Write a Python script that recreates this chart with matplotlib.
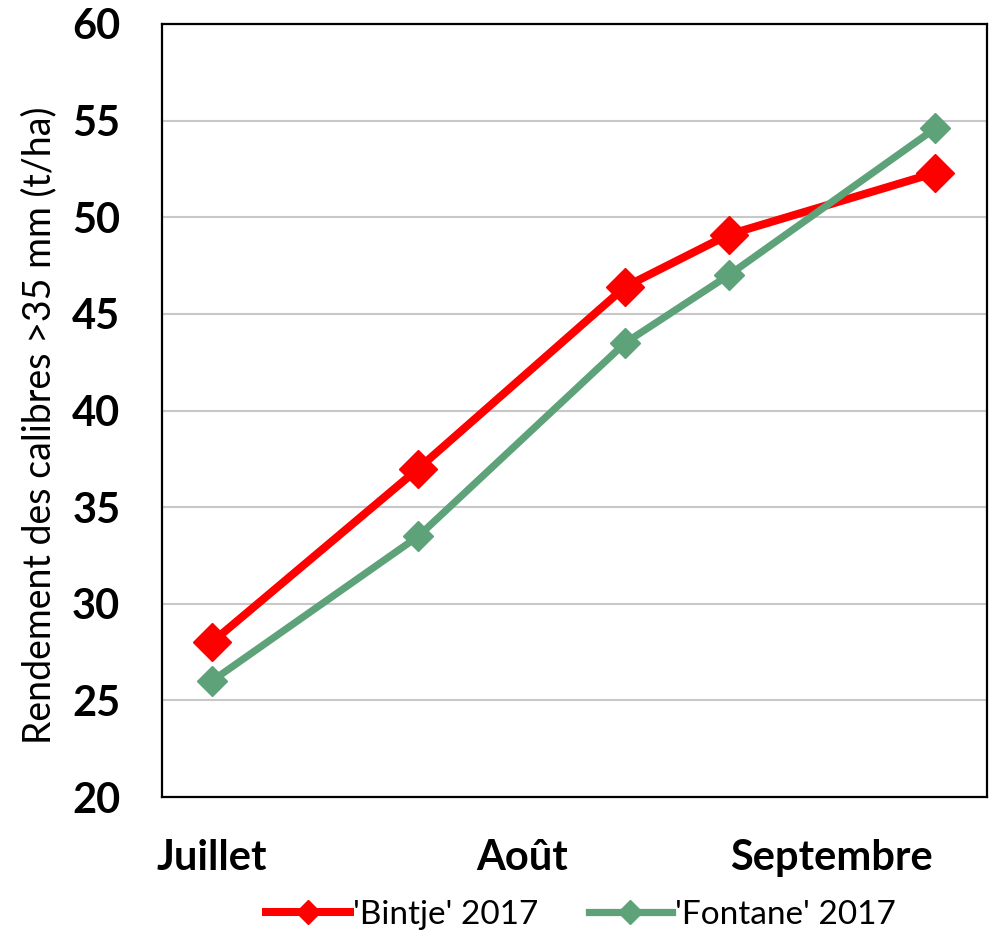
# libraries
import matplotlib.pyplot as plt

plt.rcParams['font.family'] = ['Lato', 'DejaVu Sans']

# data (x in weeks from early July)
weeks = [0, 2, 4, 5, 7]
bintje = [28.0, 37.0, 46.4, 49.1, 52.3]
fontane = [26.0, 33.5, 43.5, 47.0, 54.6]
month_pos = [0, 3, 6]
month_labels = ["Juillet", "Août", "Septembre"]
y_ticks = [20, 25, 30, 35, 40, 45, 50, 55, 60]

fig = plt.figure(figsize=(9.97, 9.40), dpi=100)
ax = fig.add_axes([0.1625, 0.152, 0.8275, 0.8225])

ax.plot(weeks, bintje, color="#FF0000", lw=5.8, marker="D", ms=19,
        label="'Bintje' 2017", zorder=3)
ax.plot(weeks, fontane, color="#5EA27A", lw=5.2, marker="D", ms=15,
        label="'Fontane' 2017", zorder=4)

ax.set_xlim(-0.48, 7.5)
ax.set_ylim(20, 60)
ax.set_yticks(y_ticks)
ax.set_xticks(month_pos)
ax.set_xticklabels(month_labels)
ax.tick_params(length=0, labelsize=30)
ax.tick_params(axis='y', pad=30)
ax.tick_params(axis='x', pad=30)
for lbl in ax.get_xticklabels() + ax.get_yticklabels():
    lbl.set_fontweight('bold')

ax.grid(axis='y', color="#C8C8C8", lw=1.5)
ax.set_axisbelow(True)
for s in ax.spines.values():
    s.set_linewidth(1.6)
    s.set_color("black")

ax.set_ylabel("Rendement des calibres >35 mm (t/ha)", fontsize=27)
ax.yaxis.set_label_coords(-0.127, 0.481)

#legend
leg = fig.legend(loc='center', ncol=2, frameon=False, fontsize=24,
                 bbox_to_anchor=(0.583, 0.027), handlelength=2.5,
                 columnspacing=1.5, handletextpad=0.1)
for h in leg.legend_handles:
    h.set_markersize(12)

plt.savefig("out.png", dpi=100)
